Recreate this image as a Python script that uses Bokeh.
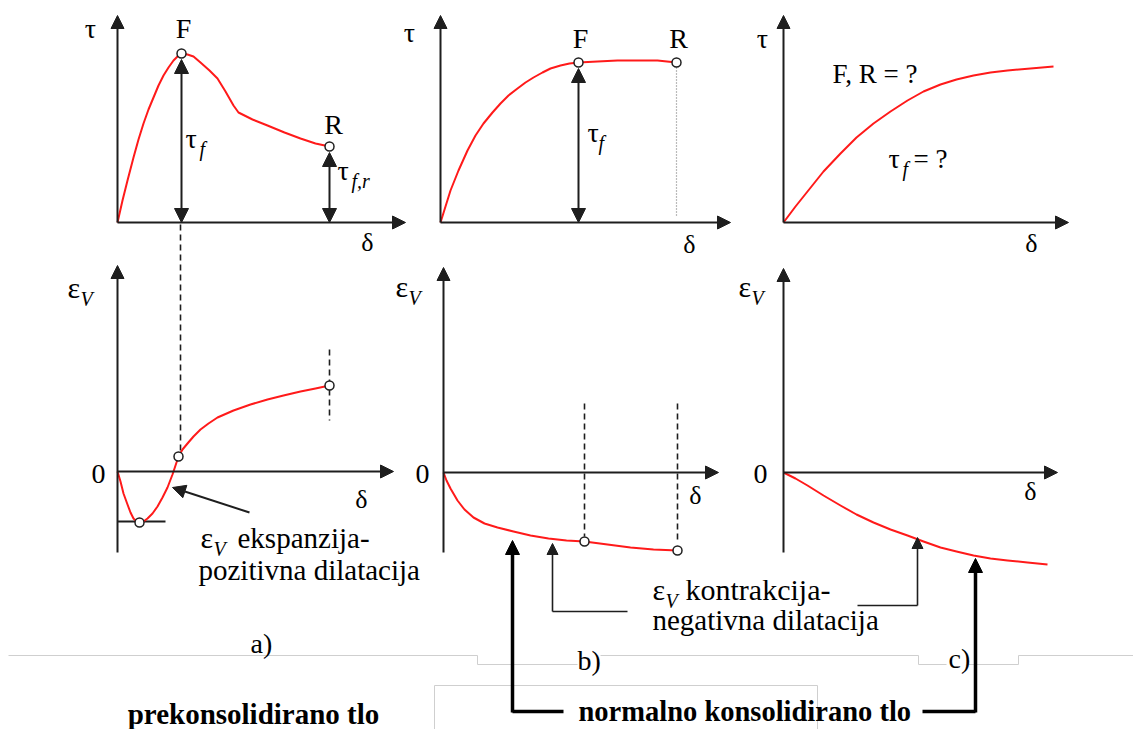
from bokeh.plotting import figure
from bokeh.models import Range1d, Arrow, NormalHead
from bokeh.core.properties import value
from bokeh.embed import file_html
from bokeh.resources import INLINE

# ---------------- data (local units, 1 unit = 10 px; delta to the right, tau / eps_v upward) ----------------
# a) overconsolidated soil: peak F, residual R
A_TOP_DELTA = [0, 0.5, 1.0, 1.6, 2.1, 2.6, 3.1, 3.6, 4.1, 4.6, 5.1, 5.6, 6.0, 6.4, 7.0, 7.6, 8.3, 9.2,
               10.0, 10.8, 11.6, 12.1, 13.5, 15.0, 16.7, 18.3, 19.8, 21.2]
A_TOP_TAU = [0, 2.2, 4.2, 6.5, 8.3, 9.9, 11.3, 12.5, 13.7, 14.7, 15.5, 16.2, 16.6, 16.9, 16.8, 16.6, 16.0, 15.2,
             14.4, 13.1, 11.7, 11.0, 10.3, 9.7, 9.0, 8.4, 7.9, 7.6]
A_BOT_DELTA = [0, 0.3, 0.6, 1.0, 1.3, 1.6, 1.9, 2.2, 2.6, 3.0, 3.5, 4.0, 4.5, 5.0, 5.5, 5.8, 6.1, 6.5, 7.0,
               7.6, 8.3, 9.1, 10.0, 11.6, 13.3, 15.0, 16.6, 18.3, 19.8, 21.2]
A_BOT_EPS = [0, -1.0, -2.2, -3.3, -4.1, -4.7, -5.0, -5.1, -5.0, -4.7, -4.2, -3.5, -2.6, -1.6, -0.3, 0.6, 1.5,
             2.2, 2.8, 3.5, 4.2, 4.8, 5.4, 6.1, 6.7, 7.2, 7.6, 8.0, 8.3, 8.6]
A_POINTS_TOP = ([6.4, 21.2], [16.9, 7.6])          # F, R
A_POINTS_BOT = ([2.2, 6.1, 21.2], [-5.1, 1.5, 8.6])

# b) normally consolidated soil: F and R at the same level
B_TOP_DELTA = [0, 0.5, 1.0, 1.8, 2.7, 3.5, 4.3, 5.2, 6.0, 6.8, 7.7, 8.5, 9.3, 10.2, 11.0, 12.0, 12.9, 13.8,
               15.7, 17.7, 19.7, 21.7, 23.6]
B_TOP_TAU = [0, 1.6, 3.2, 5.2, 7.2, 8.7, 9.9, 11.0, 11.9, 12.7, 13.4, 14.0, 14.5, 15.0, 15.4, 15.7, 15.9, 16.0,
             16.1, 16.2, 16.2, 16.2, 16.0]
B_BOT_DELTA = [0, 0.3, 0.7, 1.4, 2.1, 3.0, 4.1, 5.4, 7.0, 8.7, 10.5, 12.3, 14.1, 16.4, 18.7, 21.0, 23.4]
B_BOT_EPS = [0, -0.8, -1.6, -2.8, -3.7, -4.5, -5.1, -5.5, -5.9, -6.3, -6.6, -6.8, -6.9, -7.2, -7.5, -7.7, -7.8]
B_POINTS_TOP = ([13.8, 23.6], [16.0, 16.0])
B_POINTS_BOT = ([14.1, 23.4], [-6.9, -7.8])

# c) no distinct peak
C_TOP_DELTA = [0, 1.2, 2.4, 4.0, 5.7, 7.3, 9.0, 10.7, 12.4, 14.0, 15.7, 17.3, 19.0, 20.7, 22.4, 24.7, 27.0]
C_TOP_TAU = [0, 1.6, 3.1, 5.1, 6.9, 8.5, 9.9, 11.1, 12.2, 13.1, 13.8, 14.3, 14.7, 15.0, 15.2, 15.4, 15.6]
C_BOT_DELTA = [0, 1.2, 2.4, 4.0, 5.7, 7.3, 9.0, 10.7, 12.4, 14.0, 15.7, 17.3, 19.0, 20.7, 22.4, 24.4, 26.4]
C_BOT_EPS = [0, -0.6, -1.3, -2.3, -3.3, -4.2, -5.0, -5.7, -6.3, -6.9, -7.5, -7.9, -8.3, -8.6, -8.8, -9.0, -9.2]

# ---------------- layout ----------------
U = 10.0
ORIGIN = {"a_top": (117, 222), "a_bot": (117, 471), "b_top": (440, 222), "b_bot": (443, 472),
          "c_top": (783, 222), "c_bot": (783, 472)}
FONT = "'Liberation Serif', 'Times New Roman', serif"
RED = "#ff1a1a"
AX = "#1e1e1e"
W, H = 1133, 729
BASE_FIX = 0.36   # baseline correction, fraction of font size


def pg(panel, d, v):
    ox, oy = ORIGIN[panel]
    return [ox + U * x for x in d], [oy - U * y for y in v]


p = figure(width=W, height=H, x_range=Range1d(0, W), y_range=Range1d(H, 0),
           output_backend="svg", toolbar_location=None, min_border=0,
           x_axis_type=None, y_axis_type=None)
p.grid.visible = False
p.outline_line_color = None
p.background_fill_color = "white"
p.border_fill_color = "white"


def txt(x, y, s, size=29, style="normal", align="left", color="black"):
    p.text(x=[x], y=[y - BASE_FIX * size], text=[s], text_font=value(FONT), text_font_size=f"{size}px",
           text_font_style=style, text_align=align, text_baseline="alphabetic", text_color=color)


def eps_v(x, y, size=30):
    txt(x, y, "ε", size)
    txt(x + 13, y + 8, "V", 20, style="italic")


def arrow(x0, y0, x1, y1, width=2, size=13, both=False, color=AX):
    head = dict(size=size, fill_color=color, line_color=color, line_width=1)
    kw = dict(end=NormalHead(**head), x_start=x0, y_start=y0, x_end=x1, y_end=y1,
              line_color=color, line_width=width)
    kw["start"] = NormalHead(**head) if both else None
    p.add_layout(Arrow(**kw))


# scan artefact lines (light grey)
GREY = "#cfcfcf"
p.line([8, 477, 477, 577], [655, 655, 664, 664], line_color=GREY, line_width=1)
p.line([600, 918, 918, 946], [655, 655, 664, 664], line_color=GREY, line_width=1)
p.line([968, 1018, 1018, 1133], [664, 664, 655, 655], line_color=GREY, line_width=1)
p.line([434, 434, 817, 817], [729, 685, 685, 729], line_color=GREY, line_width=1)

# axes
AXES = {"a_top": (405, 15, 222), "a_bot": (393, 265, 552), "b_top": (730, 15, 222),
        "b_bot": (718, 267, 552), "c_top": (1068, 15, 222), "c_bot": (1057, 268, 552)}
for k, (xt, yt, yb) in AXES.items():
    ox, oy = ORIGIN[k]
    arrow(ox, oy, xt, oy, width=2, size=13)
    arrow(ox, yb, ox, yt, width=2, size=13)

# dashed / dotted guide lines
p.line([180, 180], [224, 451], line_color=AX, line_width=1.6, line_dash="6 4")
p.line([329, 329], [349, 420], line_color=AX, line_width=1.6, line_dash="6 4")
p.line([584, 584], [403, 536], line_color=AX, line_width=1.6, line_dash="6 4")
p.line([677, 677], [403, 543], line_color=AX, line_width=1.6, line_dash="6 4")
p.line([676, 676], [67, 216], line_color="#777777", line_width=1.2, line_dash="1 2")
p.line([117, 165], [521, 521], line_color=AX, line_width=2)

# double arrows (tau_f)
arrow(181, 222, 181, 59, width=2, size=14, both=True)
arrow(329, 222, 329, 152, width=2, size=14, both=True)
arrow(578, 222, 578, 68, width=2, size=14, both=True)

# curves
for panel, d, v in [("a_top", A_TOP_DELTA, A_TOP_TAU), ("a_bot", A_BOT_DELTA, A_BOT_EPS),
                    ("b_top", B_TOP_DELTA, B_TOP_TAU), ("b_bot", B_BOT_DELTA, B_BOT_EPS),
                    ("c_top", C_TOP_DELTA, C_TOP_TAU), ("c_bot", C_BOT_DELTA, C_BOT_EPS)]:
    xs, ys = pg(panel, d, v)
    p.line(xs, ys, line_color=RED, line_width=2, line_join="round")

# marked points
for panel, (d, v) in [("a_top", A_POINTS_TOP), ("a_bot", A_POINTS_BOT),
                      ("b_top", B_POINTS_TOP), ("b_bot", B_POINTS_BOT)]:
    xs, ys = pg(panel, d, v)
    p.scatter(xs, ys, size=9, marker="circle", fill_color="white", line_color=AX, line_width=1.5)

# annotation arrows
arrow(249, 512, 172, 487, width=2, size=13)
p.line([627, 552], [611, 611], line_color=AX, line_width=1.6)
arrow(552, 611, 552, 543, width=1.6, size=11)
p.line([857, 917], [605, 605], line_color=AX, line_width=1.6)
arrow(917, 605, 917, 537, width=1.6, size=11)
p.line([563, 512], [711, 711], line_color="black", line_width=3.5)
arrow(512, 712, 512, 540, width=3.5, size=14, color="black")
p.line([922, 975], [711, 711], line_color="black", line_width=3.5)
arrow(975, 712, 975, 558, width=3.5, size=14, color="black")

# ---------------- texts ----------------
# panel a top
txt(90, 38, "τ", 28, align="center")
txt(183, 38, "F", 28, align="center")
txt(333, 134, "R", 28, align="center")
txt(185, 148, "τ", 28)
txt(199, 156, "f", 20, style="italic")
txt(337, 180, "τ", 28)
txt(351, 188, "f,r", 20, style="italic")
txt(367, 251, "δ", 26, align="center")
# panel a bottom
txt(98, 484, "0", 28, align="center")
eps_v(67, 298)
txt(361, 508, "δ", 26, align="center")
eps_v(200, 548)
txt(237, 548, "ekspanzija-", 29)
txt(198, 580, "pozitivna dilatacija", 29)
# panel b top
txt(409, 42, "τ", 28, align="center")
txt(580, 48, "F", 28, align="center")
txt(678, 48, "R", 28, align="center")
txt(587, 142, "τ", 28)
txt(598, 150, "f", 20, style="italic")
txt(689, 253, "δ", 26, align="center")
# panel b bottom
txt(422, 484, "0", 28, align="center")
eps_v(395, 297)
txt(695, 504, "δ", 26, align="center")
# panel c top
txt(762, 48, "τ", 28, align="center")
txt(832, 83, "F, R = ?", 27)
txt(888, 168, "τ", 28)
txt(902, 176, "f", 20, style="italic")
txt(913, 168, "= ?", 27)
txt(1031, 252, "δ", 26, align="center")
# panel c bottom
txt(760, 484, "0", 28, align="center")
eps_v(738, 297)
txt(1030, 500, "δ", 26, align="center")
# contraction label
eps_v(652, 600)
txt(685, 600, "kontrakcija-", 30)
txt(652, 630, "negativna dilatacija", 29)
# panel captions
txt(261, 653, "a)", 28, align="center")
txt(577, 670, "b)", 28)
txt(948, 668, "c)", 28)
txt(253, 724, "prekonsolidirano tlo", 29, style="bold", align="center")
txt(578, 721, "normalno konsolidirano tlo", 28.5, style="bold")

open("out.html", "w").write(file_html(p, INLINE))
